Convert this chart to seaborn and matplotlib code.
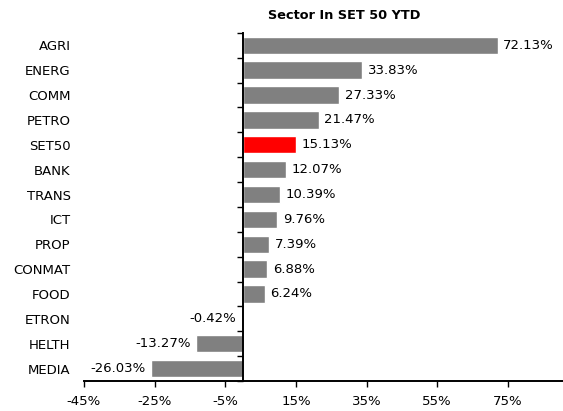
# Libraries
# ===================================================
import pandas as pd
import seaborn as sns
import matplotlib.pyplot as plt
from matplotlib.ticker import FixedLocator

# Data
# ===================================================
sectors = ['AGRI', 'ENERG', 'COMM', 'PETRO', 'SET50', 'BANK', 'TRANS',
           'ICT', 'PROP', 'CONMAT', 'FOOD', 'ETRON', 'HELTH', 'MEDIA']
ytd = [72.13, 33.83, 27.33, 21.47, 15.13, 12.07, 10.39,
       9.76, 7.39, 6.88, 6.24, -0.42, -13.27, -26.03]
xticks = [-45, -25, -5, 15, 35, 55, 75]

df = pd.DataFrame({'sector': sectors, 'ytd': ytd})
colors = ['#FF0000' if s == 'SET50' else '#808080' for s in sectors]

# Data Visualization
# ===================================================
sns.set_style('white')
plt.rcParams.update({'font.family': ['DejaVu Sans'], 'font.size': 9,
                     'text.color': 'black', 'xtick.color': 'black', 'ytick.color': 'black'})

fig = plt.figure(figsize=(5.63, 4.11), dpi=100)
ax = fig.add_axes([0.149, 0.073, 0.851, 0.847])

sns.barplot(data=df, x='ytd', y='sector', hue='sector', palette=colors,
            orient='h', width=0.7, legend=False, saturation=1, ax=ax)

# Value labels
for cont in ax.containers:
    ax.bar_label(cont, fmt='%.2f%%', padding=4, fontsize=9.5, color='black')

ax.set_xlim(-45, 90.6)
ax.set_ylim(13.5, -0.5)
ax.set_xticks(xticks)
ax.set_xticklabels([f'{t}%' for t in xticks], fontsize=9.5)
ax.set_xlabel('')
ax.set_ylabel('')

# Spines
for s in ['top', 'right']:
    ax.spines[s].set_visible(False)
ax.spines['left'].set_position(('data', 0))
ax.spines['left'].set_linewidth(1.4)
ax.spines['bottom'].set_linewidth(1.4)
ax.spines['left'].set_color('black')
ax.spines['bottom'].set_color('black')

ax.tick_params(axis='x', bottom=True, direction='out', length=4, width=1,
               color='black', labelcolor='black', pad=6)
ax.tick_params(axis='y', which='major', left=True, length=0, pad=124,
               labelsize=9.5, labelcolor='black')
ax.yaxis.set_minor_locator(FixedLocator([i - 0.5 for i in range(len(sectors) + 1)]))
ax.tick_params(axis='y', which='minor', left=True, direction='out', length=4,
               width=1, color='black')
for lbl in ax.get_yticklabels():
    lbl.set_horizontalalignment('right')

# Title
fig.text(0.611, 0.963, 'Sector In SET 50 YTD', ha='center', va='center',
         fontsize=9.3, fontweight='bold', color='black')

plt.savefig('out.png', dpi=100)
